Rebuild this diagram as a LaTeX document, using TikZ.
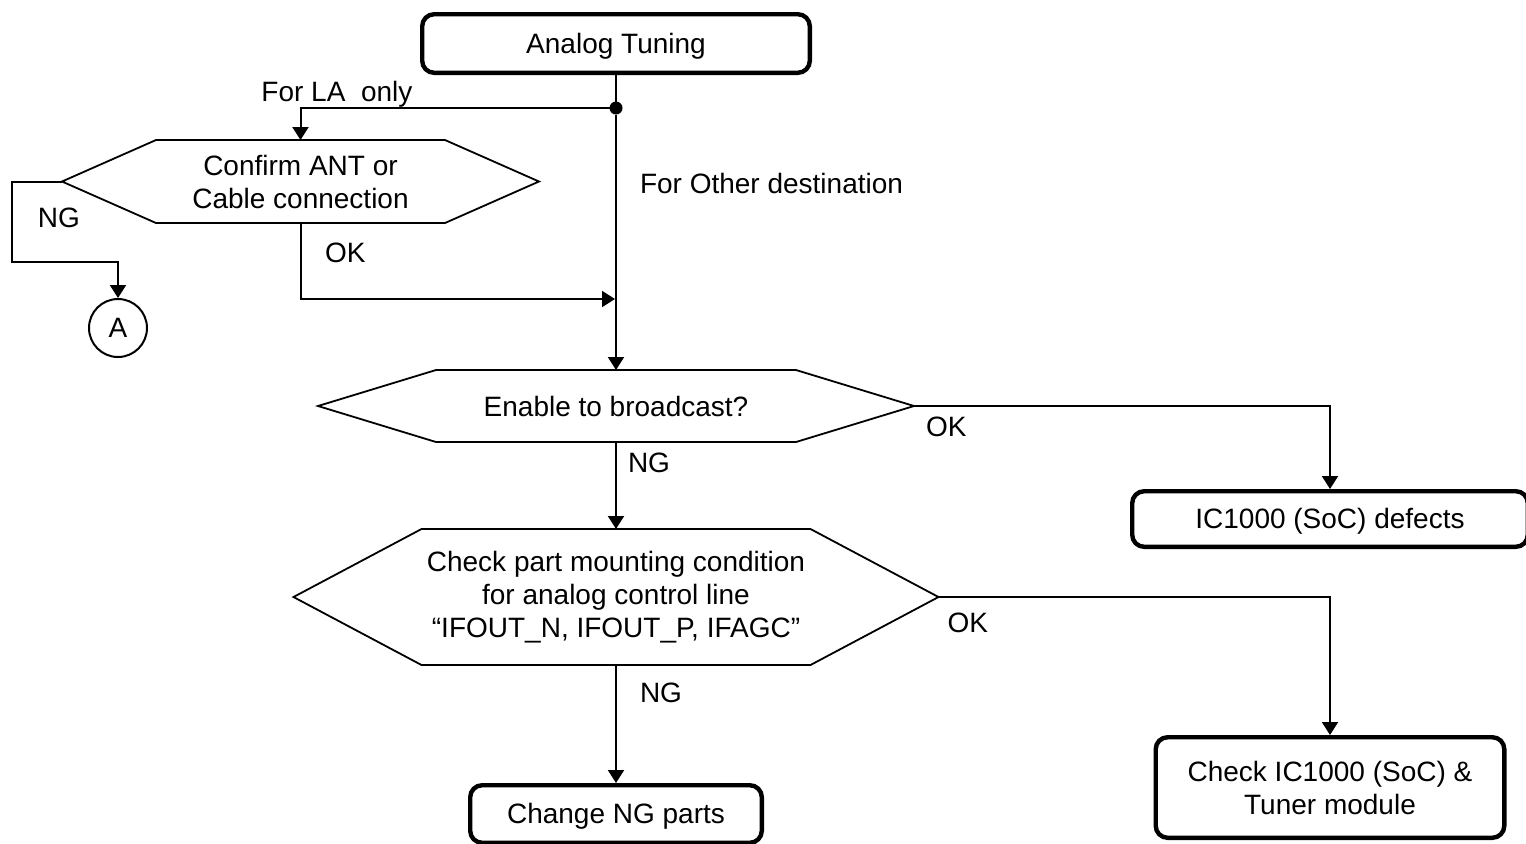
\documentclass[tikz,border=0pt]{standalone}
\usepackage{fontspec}
\setmainfont{Liberation Sans}
\usetikzlibrary{arrows.meta,positioning,calc}

\newcommand{\hexagon}[2]{%
  \coordinate (#1-l) at ([xshift=-#2]#1.west);
  \coordinate (#1-r) at ([xshift=#2]#1.east);
  \draw[hexline] (#1.north west) -- (#1.north east) -- (#1-r) -- (#1.south east) -- (#1.south west) -- (#1-l) -- cycle;}

\begin{document}
\begin{tikzpicture}[x=1pt, y=1pt, >={Triangle[length=6.5pt,width=8pt]}, font=\fontsize{14}{16.5}\selectfont,
  box/.style={draw, rounded corners=6pt, line width=2.2pt, align=center, inner sep=0pt},
  onebox/.style={box, text depth=0.5pt},
  hexa/.style={inner sep=0pt, outer sep=0pt, align=center},
  hexline/.style={line width=0.9pt},
  line/.style={line width=1pt},
  lbl/.style={inner sep=0pt},
  junction/.style={circle, fill, inner sep=0pt, outer sep=0pt, minimum size=6.5pt},
  connector/.style={draw, circle, line width=1pt, inner sep=0pt, minimum size=29pt}]
\useasboundingbox (0,0) rectangle (763,-421.5);
\node[onebox, minimum width=193.8pt, minimum height=29.3pt] (tuning) at (308,-21.75) {Analog Tuning};
\node[junction] (dot) at (308,-54) {};
\node[hexa, minimum width=144.5pt, minimum height=41.5pt] (hex1) at (150.25,-90.75) {Confirm ANT or\\Cable connection};
\node[connector] (A) at (59,-164) {A};
\coordinate (merge) at (307.5,-149.5);
\node[hexa, minimum width=180pt, minimum height=36pt, below=127.75pt of dot] (hex2) {Enable to broadcast?};
\node[hexa, minimum width=194.5pt, minimum height=68pt, below=43.5pt of hex2] (hex3) {Check part mounting condition\\for analog control line\\“IFOUT\_N, IFOUT\_P, IFAGC”};
\node[onebox, minimum width=145.8pt, minimum height=28.8pt, below=59pt of hex3] (parts) {Change NG parts};
\node[onebox, minimum width=197.8pt, minimum height=27.8pt] (defects) at (665,-259.5) {IC1000 (SoC) defects};
\node[box, minimum width=174.3pt, minimum height=50.3pt, below=93pt of defects] (module) {Check IC1000 (SoC) \&\\Tuner module};
\hexagon{hex1}{47pt}
\hexagon{hex2}{59pt}
\hexagon{hex3}{64pt}
\draw[line] (tuning) -- (dot);
\draw[line, ->] (dot) -- node[lbl, pos=0.311, anchor=base west, xshift=11.5pt] (other) {For Other destination} (hex2);
\draw[line, ->] (dot) -| node[lbl, pos=0.441, anchor=base, yshift=3.5pt] (la) {For LA\ \ only} (hex1);
\draw[line, ->] (hex1) |- node[lbl, pos=0.262, anchor=base west, xshift=11.75pt] (ok1) {OK} (merge);
\draw[line, ->] (hex1-l) -- ++(-25,0) -- node[lbl, pos=0.58, anchor=base west, xshift=12.5pt] (ng1) {NG} ++(0,-40) -| (A);
\draw[line, ->] (hex2) -- node[lbl, pos=0.356, anchor=base west, xshift=5.5pt] (ng2) {NG} (hex3);
\draw[line, ->] (hex2-r) -| node[lbl, pos=0, anchor=base west, xshift=5.5pt, yshift=-15pt] (ok2) {OK} (defects);
\draw[line, ->] (hex3-r) -| node[lbl, pos=0, anchor=base west, xshift=4pt, yshift=-17.5pt] (ok3) {OK} (module);
\draw[line, ->] (hex3) -- node[lbl, pos=0.32, anchor=base west, xshift=11.5pt] (ng3) {NG} (parts);
\end{tikzpicture}
\end{document}
